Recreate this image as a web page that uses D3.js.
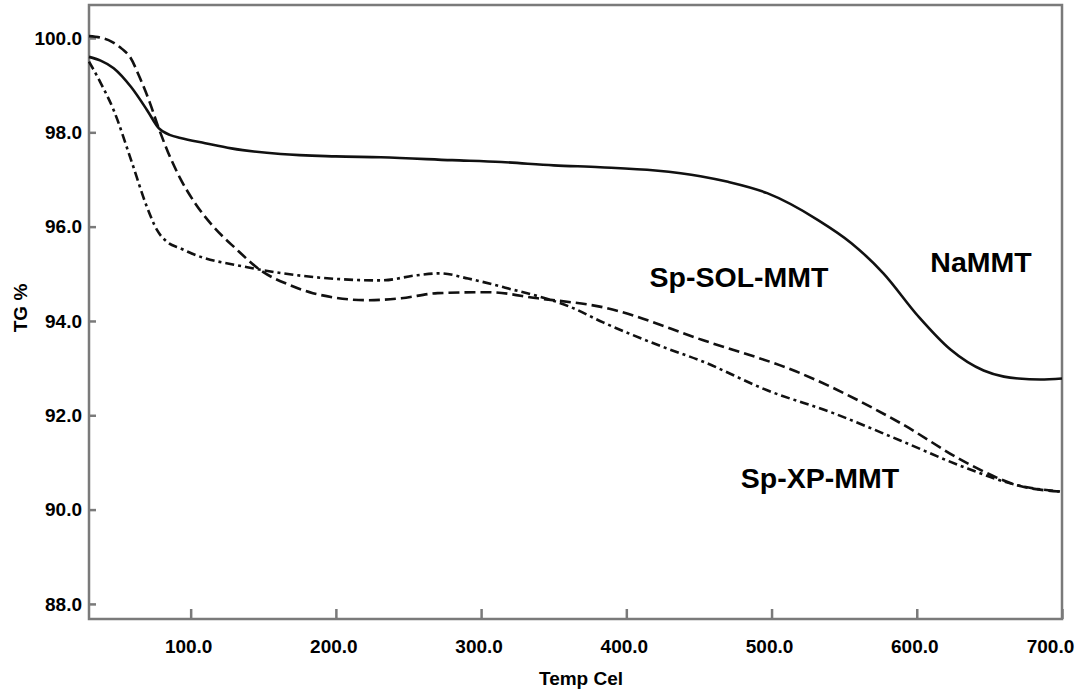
<!DOCTYPE html>
<html>
<head>
<meta charset="utf-8">
<script src="https://cdn.jsdelivr.net/npm/d3@7"></script>
<style>
  html, body { margin: 0; padding: 0; background: #fff; }
  svg { display: block; font-family: Arial, "Liberation Sans", sans-serif; }
</style>
</head>
<body>
<svg id="chart" width="1079" height="697"></svg>
<script>
// ---- data ----
const xTicks = [100, 200, 300, 400, 500, 600, 700];
const yTicks = [88, 90, 92, 94, 96, 98, 100];

const naTemp = [30, 38, 47, 59, 70, 78, 86, 93, 110, 128, 162, 200, 231, 280, 314, 350, 382, 420, 451, 470, 497, 532, 555, 577, 601, 623, 646, 660, 670, 685, 700];
const naTG   = [99.60, 99.52, 99.36, 98.96, 98.47, 98.09, 97.94, 97.88, 97.77, 97.66, 97.54, 97.49, 97.47, 97.41, 97.37, 97.30, 97.26, 97.19, 97.07, 96.95, 96.71, 96.14, 95.65, 95.01, 94.10, 93.40, 92.95, 92.82, 92.78, 92.76, 92.78];

const solTemp = [30, 37.6, 45.8, 52.7, 58.2, 65.1, 72, 77.5, 84.4, 92.7, 103, 115.4, 130.5, 149.8, 168.4, 184.2, 222, 245, 270, 305, 339, 384, 453, 520, 589, 635, 670, 700];
const solTG   = [100.04, 100.01, 99.92, 99.77, 99.60, 99.15, 98.62, 98.13, 97.58, 97.03, 96.50, 96.01, 95.55, 95.04, 94.76, 94.59, 94.44, 94.48, 94.59, 94.61, 94.48, 94.29, 93.59, 92.89, 91.83, 90.98, 90.51, 90.38];

const xpTemp = [30, 38, 47, 59, 70, 77, 84, 93, 100, 139, 185, 231, 256, 272, 291, 316, 362, 384, 426, 451, 497, 543, 589, 635, 670, 700];
const xpTG   = [99.50, 99.05, 98.47, 97.41, 96.41, 95.92, 95.67, 95.54, 95.44, 95.14, 94.93, 94.86, 94.97, 95.01, 94.90, 94.71, 94.29, 93.97, 93.44, 93.16, 92.53, 92.04, 91.46, 90.87, 90.51, 90.38];

const seriesNames = ["NaMMT", "Sp-SOL-MMT", "Sp-XP-MMT"];

// ---- layout ----
const svg = d3.select("#chart");
const plotL = 89, plotR = 1062, plotT = 5, plotB = 619;

const x = d3.scaleLinear().domain([30, 700]).range([plotL, plotR]);
const y = d3.scaleLinear().domain([87.68, 100.70]).range([plotB, plotT]);

const frameColor = "#7a7a7a";

// axes
const xAxis = d3.axisBottom(x).tickValues(xTicks).tickFormat(d3.format(".1f"))
  .tickSizeInner(-10).tickSizeOuter(0).tickPadding(21);
const yAxis = d3.axisLeft(y).tickValues(yTicks).tickFormat(d3.format(".1f"))
  .tickSizeInner(-7).tickSizeOuter(0).tickPadding(7);

const gx = svg.append("g").attr("transform", `translate(0,${plotB})`).call(xAxis);
const gy = svg.append("g").attr("transform", `translate(${plotL},0)`).call(yAxis);
[gx, gy].forEach(g => {
  g.select(".domain").remove();
  g.selectAll(".tick line").attr("stroke", frameColor).attr("stroke-width", 2.5);
  g.selectAll(".tick text").attr("fill", "#000").attr("font-size", 19).attr("font-weight", "bold")
   .attr("font-family", "Arial, 'Liberation Sans', sans-serif");
});
gx.selectAll(".tick text").attr("dx", d => d === 700 ? -12 : -2.5);

// frame
svg.append("rect").attr("x", plotL).attr("y", plotT).attr("width", plotR - plotL).attr("height", plotB - plotT)
  .attr("fill", "none").attr("stroke", frameColor).attr("stroke-width", 2.5);

// lines
const line = d3.line().x(d => x(d[0])).y(d => y(d[1])).curve(d3.curveMonotoneX);
const series = [
  { name: seriesNames[0], data: d3.zip(naTemp, naTG), dash: null },
  { name: seriesNames[1], data: d3.zip(solTemp, solTG), dash: "11,5" },
  { name: seriesNames[2], data: d3.zip(xpTemp, xpTG), dash: "9,4,3,4" }
];
svg.append("g").selectAll("path").data(series).join("path")
  .attr("d", d => line(d.data))
  .attr("fill", "none").attr("stroke", "#111").attr("stroke-width", 2.6)
  .attr("stroke-dasharray", d => d.dash);

// series labels
const labelPos = [
  { t: seriesNames[0], x: 981, y: 272 },
  { t: seriesNames[1], x: 739, y: 287 },
  { t: seriesNames[2], x: 820, y: 488 }
];
svg.append("g").selectAll("text").data(labelPos).join("text")
  .attr("x", d => d.x).attr("y", d => d.y).attr("text-anchor", "middle")
  .attr("font-size", 28.5).attr("font-weight", "bold").attr("fill", "#000")
  .text(d => d.t);

// axis titles
svg.append("text").attr("x", 581).attr("y", 685).attr("text-anchor", "middle")
  .attr("font-size", 19).attr("font-weight", "bold").text("Temp Cel");
svg.append("text").attr("transform", "translate(27,308) rotate(-90)").attr("text-anchor", "middle")
  .attr("font-size", 19).attr("font-weight", "bold").text("TG %");
</script>
</body>
</html>
